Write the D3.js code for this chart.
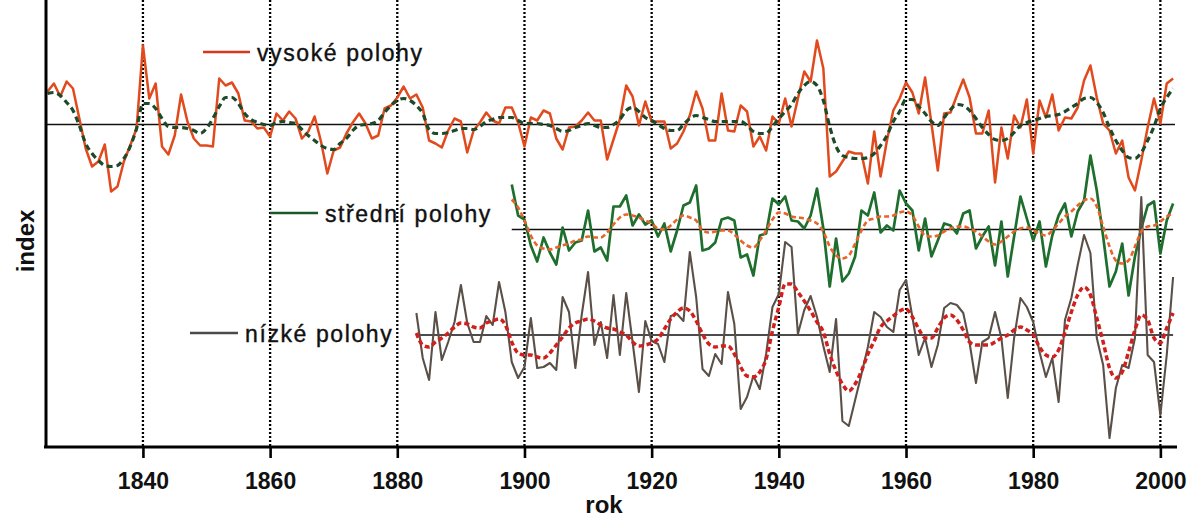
<!DOCTYPE html>
<html>
<head>
<meta charset="utf-8">
<script src="https://cdn.jsdelivr.net/npm/d3@7"></script>
<style>
  body { margin: 0; background: #fff; }
  svg { display: block; }
</style>
</head>
<body>
<svg id="chart" width="1188" height="517"></svg>
<script>
// ---- data: annual index values (deviation from each series' own zero line) ----
const highStart = 1825;
const highValues = [
  3.3, 4.1, 2.8, 4.3, 3.6,
  0.6, -2.4, -4.2, -3.7, -2.0, -6.7, -6.2, -3.7, -2.1, -0.4,
  7.9, 2.6, 4.1, -2.2, -3.0, -1.1, 3.0, 0.3, -1.4, -2.1,
  -2.1, -2.2, 4.6, 3.9, 4.2, 3.1, 0.4, 0.3, -0.4, -0.3,
  -1.2, 1.1, 0.4, 1.3, 0.6, -1.4, -0.7, 0.8, -1.7, -4.9,
  -2.6, -2.3, -0.9, 0.2, 1.1, 0.1, -1.4, -1.1, 1.6, 1.9,
  2.7, 3.8, 2.6, 3.0, 1.7, -1.6, -1.9, -2.3, -0.6, 0.6,
  0.3, -2.8, -0.6, 0.2, 1.2, 0.4, 0.1, 1.7, 1.7, 0.2,
  -2.2, 0.7, 0.4, 1.4, 1.1, -1.4, -2.5, -0.3, -0.2, 0.4,
  1.2, 0.4, 0.4, -3.5, -1.5, 0.5, 3.9, 2.8, -0.1, 2.3,
  0.3, 0.3, 0.3, -2.4, -1.9, -0.7, 0.9, 3.3, 1.6, -1.6,
  -1.6, 3.1, -0.6, -0.7, 1.9, 1.3, -2.2, -1.2, -2.6, 0.8,
  0.1, 2.6, -0.2, 2.6, 5.3, 4.3, 8.4, 5.6, -5.2, -4.7,
  -3.7, -2.7, -2.9, -2.9, -5.9, -0.7, -5.2, -1.6, 1.4, 2.6,
  4.2, 3.2, 1.1, 4.7, 0.1, -4.6, 1.1, 1.2, 2.9, 4.5,
  2.7, -0.9, -0.9, 1.4, -5.8, -0.3, -3.4, 0.9, -0.3, 2.5,
  -2.9, 2.4, 0.7, 3.0, -0.6, 0.7, 0.6, 1.7, 4.4, 5.9,
  2.7, 0.1, -0.6, -2.9, -1.6, -5.3, -6.6, -3.6, -0.3, 2.6,
  0.1, 4.1, 4.6
];
const highSmooth = [
  3.1, 3.2, 2.9, 2.2, 1.4,
  -0.1, -1.9, -2.9, -3.6, -4.1, -4.2, -4.1, -3.4, -2.2, -0.4,
  2.1, 2.1, 1.6, 0.6, -0.2, -0.3, -0.3, -0.4, -0.6, -0.9,
  -0.4, 0.6, 1.8, 2.7, 2.7, 2.1, 1.1, 0.5, 0.2, 0.0,
  -0.1, 0.2, 0.3, 0.2, 0.1, -0.5, -1.1, -1.6, -2.1, -2.4,
  -2.5, -1.9, -1.4, -0.6, -0.1, 0.0, 0.1, 0.4, 1.2, 1.9,
  2.4, 2.6, 2.4, 1.9, 1.1, -0.5, -0.9, -0.9, -0.8, -0.6,
  -0.4, -0.4, -0.5, -0.2, 0.3, 0.5, 0.7, 0.7, 0.7, 0.4,
  0.1, 0.1, 0.1, 0.0, -0.1, -0.4, -0.7, -0.6, -0.3, -0.1,
  0.1, -0.1, -0.3, -0.3, 0.0, 0.5, 1.4, 1.7, 1.3, 0.7,
  0.4, 0.0, -0.4, -0.6, -0.6, 0.0, 0.6, 0.9, 0.7, 0.5,
  0.3, 0.3, 0.3, 0.3, 0.3, -0.1, -0.7, -0.9, -0.9, -0.2,
  0.6, 1.3, 2.0, 3.1, 3.9, 4.3, 3.9, 2.4, -0.2, -2.2,
  -3.1, -3.3, -3.4, -3.4, -3.3, -2.9, -2.1, -1.1, 0.3, 1.3,
  2.5, 2.5, 1.8, 1.1, 0.3, -0.1, 0.7, 1.5, 2.0, 1.9,
  1.4, 0.6, -0.3, -1.0, -1.5, -1.6, -1.4, -0.8, -0.1, 0.2,
  0.4, 0.6, 0.8, 0.9, 1.0, 1.3, 1.7, 2.1, 2.6, 2.7,
  2.2, 1.2, -0.3, -1.6, -2.6, -3.3, -3.4, -2.8, -1.6, -0.2,
  1.6, 2.7, 3.6
];

const midStart = 1898;
const midValues = [
  4.5, 1.4,
  1.0, -1.6, -3.2, -0.8, -2.3, -3.5, 0.2, -2.1, -1.3, -1.1,
  1.9, -2.2, -1.8, -3.1, 2.3, 2.3, 3.4, 0.4, 1.5, 0.5,
  0.9, -0.7, 0.6, -2.2, -0.1, 2.4, 2.7, 4.4, -2.1, -1.9,
  -1.3, 1.0, 1.2, 0.9, -2.8, -2.5, -4.6, -0.6, -0.4, 3.1,
  2.5, 3.3, 0.9, 0.8, 0.1, 1.4, 4.1, 0.1, -5.7, -0.9,
  -5.2, -4.4, -2.7, 1.9, 1.4, 3.7, -0.3, 0.4, -0.1, 3.9,
  2.6, 1.9, -2.1, 1.1, -2.7, -1.1, 0.6, 0.4, -0.4, 1.6,
  1.9, -1.9, -0.7, 0.3, -3.6, 0.8, -4.7, -0.7, 3.3, 1.1,
  -1.1, 0.8, -3.7, -0.6, 1.4, 2.6, -0.7, 1.8, 2.9, 7.4,
  3.9, -0.7, -5.7, -4.2, -1.4, -6.6, -2.7, 0.1, 2.4, 2.8,
  -2.4, 0.9, 2.6
];
const midSmooth = [
  3.0, 2.2,
  0.9, -0.6, -1.6, -1.9, -2.0, -1.8, -1.6, -1.4, -1.1, -1.0,
  -0.7, -0.8, -0.8, -0.3, 0.5, 1.2, 1.5, 1.4, 1.2, 0.9,
  0.6, 0.1, 0.0, 0.4, 1.0, 1.4, 1.2, 0.9, -0.1, -0.3,
  -0.2, -0.1, -0.1, -0.5, -1.1, -1.6, -1.8, -1.1, -0.1, 1.0,
  1.7, 1.6, 1.3, 1.2, 1.1, 0.9, 0.6, -0.2, -1.7, -2.6,
  -2.9, -2.6, -1.4, -0.1, 0.9, 1.1, 1.3, 1.3, 1.4, 1.7,
  1.8, 1.4, 0.3, -0.6, -0.7, -0.6, -0.2, 0.1, 0.3, 0.3,
  0.1, -0.2, -0.7, -1.2, -1.5, -1.2, -0.7, -0.2, 0.1, 0.2,
  -0.1, -0.4, -0.6, -0.1, 0.6, 1.3, 1.8, 2.4, 2.9, 3.1,
  2.3, 0.3, -1.7, -3.1, -3.4, -3.1, -1.7, -0.2, 0.3, 0.4,
  0.8, 1.3, 1.6
];

const lowStart = 1883;
const lowValues = [
  2.2, -2.3, -4.5, 2.3, -2.5, -0.7, 1.3,
  5.0, 1.2, -0.7, -0.7, 1.9, 1.0, 5.3, 2.3, -2.7, -4.3,
  -3.2, 1.7, -3.3, -3.2, -2.8, -3.5, 3.8, 2.3, -3.3, 2.0,
  6.3, -1.0, 1.3, -2.3, 4.0, -2.0, 4.2, -0.7, -5.7, 1.4,
  -0.6, -0.9, -2.7, 1.9, 2.1, 1.4, 8.3, 3.8, -3.4, -4.1,
  -1.9, -2.9, 4.3, 1.1, -7.4, -6.2, -4.1, -5.4, -1.9, 2.8,
  4.1, 9.3, 8.8, 0.1, 2.5, 3.9, 1.8, -1.1, -3.7, 1.6,
  -8.6, -9.1, -6.5, -3.9, -1.2, 2.3, 1.8, 0.8, 0.3, 4.5,
  5.5, 1.8, -2.0, -0.3, -3.2, -1.0, 2.7, 3.2, 3.0, 2.2,
  -0.8, -4.8, -0.7, -0.3, 2.3, -0.3, -6.3, -0.3, 3.7, 2.8,
  1.3, -1.7, -4.2, -2.3, -6.7, 1.5, 3.7, 7.0, 10.0, 8.2,
  -0.3, -3.0, -10.3, -5.3, -3.0, -3.3, -0.3, 13.8, -2.0, -2.7,
  -8.0, -2.0, 5.8
];
const lowSmooth = [
  0.2, -1.0, -1.2, -0.7, -0.3, 0.2, 0.8,
  1.2, 1.1, 0.8, 0.7, 1.2, 1.4, 1.6, 1.0, -0.7, -1.8,
  -2.0, -2.0, -2.2, -2.3, -1.8, -1.0, -0.2, 0.7, 1.2, 1.4,
  1.6, 1.4, 1.0, 0.7, 0.6, 0.3, 0.0, -0.7, -1.1, -1.0,
  -0.8, -0.4, 0.6, 1.6, 2.3, 2.7, 2.4, 1.4, 0.1, -0.9,
  -1.2, -1.1, -1.1, -1.9, -3.2, -4.1, -4.2, -3.7, -2.4, 0.4,
  2.8, 5.1, 5.1, 4.3, 3.4, 2.4, 1.3, 0.3, -1.9, -3.6,
  -4.9, -5.6, -4.9, -3.6, -1.9, -0.6, 0.8, 1.4, 1.9, 2.4,
  2.6, 1.8, 0.6, -0.3, -0.3, 0.7, 1.7, 2.0, 1.5, 0.5,
  -0.7, -1.0, -1.0, -1.0, -0.7, -0.3, 0.0, 0.5, 0.8, 0.5,
  0.0, -1.2, -2.0, -2.2, -1.5, 0.3, 2.3, 4.0, 4.8, 4.0,
  1.7, -0.7, -3.3, -4.3, -3.7, -1.7, 0.5, 2.0, 1.5, -0.3,
  -0.8, 0.7, 2.2
];

const seriesNames = ["vysoké polohy", "střední polohy", "nízké polohy"];
const tickYears = [1840, 1860, 1880, 1900, 1920, 1940, 1960, 1980, 2000];
const xTitle = "rok";
const yTitle = "index";

// ---- layout ----
const svg = d3.select("#chart");
const x = d3.scaleLinear().domain([1824.6, 2002.3]).range([45, 1175]);
const y = d3.scaleLinear().domain([0, 44.7]).range([447, 0]);

// vertical stacking: each series sits on its own zero line
const series = [
  { name: seriesNames[0], start: highStart, raw: highValues, smooth: highSmooth, base: 32.25,
    rawColor: "#e14a1d", rawWidth: 2.5, smoothColor: "#1c4a2a", smoothWidth: 3.2, dash: "6,4",
    legendColor: "#d8361b", legend: [203, 250, 52], lineFrom: 1824.6, lineTo: 2002.3 },
  { name: seriesNames[1], start: midStart, raw: midValues, smooth: midSmooth, base: 21.75,
    rawColor: "#1e6e2e", rawWidth: 2.7, smoothColor: "#e8642a", smoothWidth: 2.6, dash: "5,3",
    legendColor: "#1b5a28", legend: [270, 318, 213], lineFrom: 1898, lineTo: 2002 },
  { name: seriesNames[2], start: lowStart, raw: lowValues, smooth: lowSmooth, base: 11.2,
    rawColor: "#5a5048", rawWidth: 2.1, smoothColor: "#d21f1c", smoothWidth: 3.5, dash: "5,3",
    legendColor: "#4a4a4a", legend: [190, 238, 333], lineFrom: 1883, lineTo: 2002 }
];

// dotted year grid
svg.append("g").selectAll("line").data(tickYears).join("line")
  .attr("x1", d => x(d)).attr("x2", d => x(d))
  .attr("y1", 0).attr("y2", 447)
  .attr("stroke", "#000").attr("stroke-width", 2.3)
  .attr("stroke-dasharray", "2,2");

// zero lines
svg.append("g").selectAll("line").data(series).join("line")
  .attr("x1", d => x(d.lineFrom)).attr("x2", d => x(d.lineTo))
  .attr("y1", d => y(d.base)).attr("y2", d => y(d.base))
  .attr("stroke", "#111").attr("stroke-width", 1.7);

// annual curves
series.forEach(s => {
  const line = d3.line()
    .x((d, i) => x(s.start + i))
    .y(d => y(s.base + d));
  svg.append("path").datum(s.raw)
    .attr("d", line)
    .attr("fill", "none")
    .attr("stroke", s.rawColor)
    .attr("stroke-width", s.rawWidth)
    .attr("stroke-linejoin", "round");
});

// smoothed curves (dashed) on top
series.forEach(s => {
  const line = d3.line()
    .x((d, i) => x(s.start + i))
    .y(d => y(s.base + d))
    .curve(d3.curveMonotoneX);
  svg.append("path").datum(s.smooth)
    .attr("d", line)
    .attr("fill", "none")
    .attr("stroke", s.smoothColor)
    .attr("stroke-width", s.smoothWidth)
    .attr("stroke-dasharray", s.dash);
});

// legend labels
const leg = svg.append("g");
series.forEach(s => {
  const [x1, x2, ly] = s.legend;
  leg.append("line")
    .attr("x1", x1).attr("x2", x2).attr("y1", ly).attr("y2", ly)
    .attr("stroke", s.legendColor).attr("stroke-width", 2.6);
  leg.append("text")
    .attr("x", x2 + 7).attr("y", ly + 8.5)
    .attr("font-family", "'Liberation Sans', Arial, sans-serif")
    .attr("font-size", 23)
    .attr("letter-spacing", "1.6px")
    .attr("fill", "#111")
    .attr("stroke", "#111").attr("stroke-width", 0.4)
    .text(s.name);
});

// x axis
const xAxis = d3.axisBottom(x)
  .tickValues(tickYears)
  .tickFormat(d3.format("d"))
  .tickSize(11)
  .tickSizeOuter(0)
  .tickPadding(15);
const gx = svg.append("g").attr("transform", "translate(0,447)").call(xAxis);
gx.select(".domain").remove();
gx.append("line").attr("x1", 44).attr("x2", 1177).attr("y1", 0).attr("y2", 0)
  .attr("stroke", "#000").attr("stroke-width", 3);
gx.selectAll(".tick line").attr("stroke", "#000").attr("stroke-width", 2.6);
gx.selectAll(".tick text")
  .attr("font-family", "'Liberation Sans', Arial, sans-serif")
  .attr("font-size", 23).attr("font-weight", "bold").attr("fill", "#111");

// y axis line (no ticks)
svg.append("line").attr("x1", 46).attr("x2", 46).attr("y1", 0).attr("y2", 448)
  .attr("stroke", "#000").attr("stroke-width", 3);

// axis titles
svg.append("text")
  .attr("x", 604).attr("y", 513)
  .attr("text-anchor", "middle")
  .attr("font-family", "'Liberation Sans', Arial, sans-serif")
  .attr("font-size", 24).attr("font-weight", "bold").attr("fill", "#111")
  .text(xTitle);
svg.append("text")
  .attr("transform", "translate(34,241) rotate(-90)")
  .attr("text-anchor", "middle")
  .attr("font-family", "'Liberation Sans', Arial, sans-serif")
  .attr("font-size", 24).attr("font-weight", "bold").attr("fill", "#111")
  .text(yTitle);
</script>
</body>
</html>
